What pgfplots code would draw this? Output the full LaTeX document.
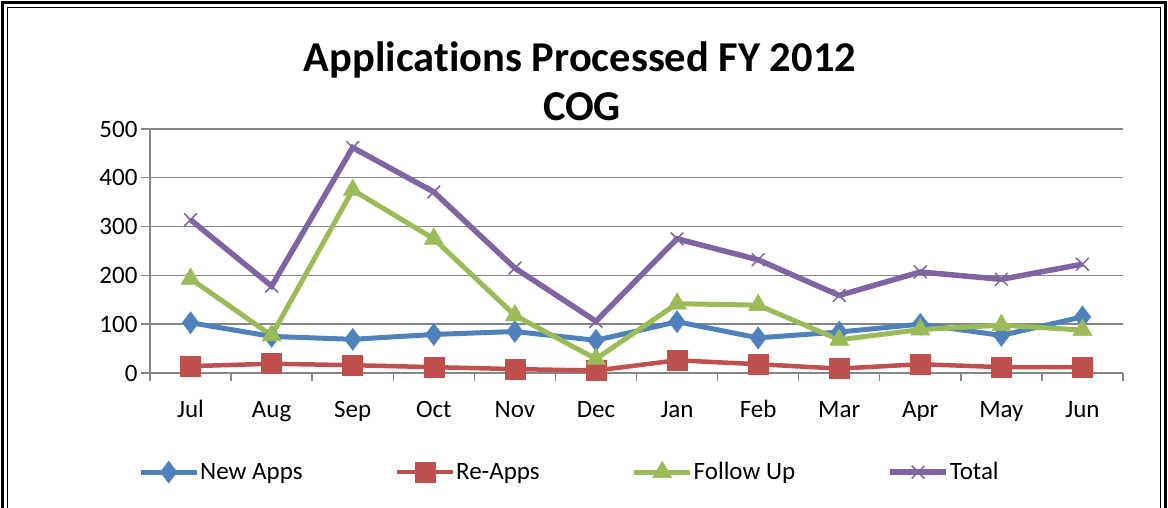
\documentclass[border=0pt]{standalone}
\usepackage{fontspec}
\setmainfont{Carlito}[Ligatures=NoCommon]
\usepackage{pgfplots}
\pgfplotsset{compat=1.18}
\definecolor{cBlue}{HTML}{4F81BD}
\definecolor{cRed}{HTML}{C0504D}
\definecolor{cGreen}{HTML}{9BBB59}
\definecolor{cPurple}{HTML}{8064A2}
\definecolor{gridgray}{HTML}{868686}

\pgfplotstableread{
x y
0 103
1 75
2 69
3 79
4 85
5 67
6 105
7 72
8 84
9 100
10 77
11 115
}\newapps
\pgfplotstableread{
x y
0 14
1 19
2 16
3 12
4 8
5 5
6 26
7 18
8 9
9 18
10 12
11 12
}\reapps
\pgfplotstableread{
x y
0 193
1 77
2 375
3 275
4 118
5 29
6 142
7 139
8 68
9 89
10 98
11 88
}\followup
\pgfplotstableread{
x y
0 314
1 178
2 462
3 371
4 215
5 106
6 275
7 232
8 159
9 207
10 192
11 223
}\total

\begin{document}
\begin{tikzpicture}[x=1pt,y=1pt]
\useasboundingbox (0,0) rectangle (1168,508);
\draw[line width=2.5pt] (2.5,-20) -- (2.5,505.5) -- (1165.5,505.5) -- (1165.5,-20);
\draw[line width=1pt] (7.5,-20) -- (7.5,500.5) -- (1160.5,500.5) -- (1160.5,-20);
\node[font=\fontsize{42.5}{50}\selectfont\bfseries, anchor=base] at (580,436) {Applications Processed FY 2012};
\node[font=\fontsize{42.5}{50}\selectfont\bfseries, anchor=base] at (582,387) {COG};
\begin{axis}[
  at={(150pt,135pt)}, anchor=south west,
  scale only axis, width=973pt, height=244pt,
  xmin=-0.5, xmax=11.5, ymin=0, ymax=500,
  xtick={0,...,11},
  xticklabels={Jul,Aug,Sep,Oct,Nov,Dec,Jan,Feb,Mar,Apr,May,Jun},
  major x tick style={draw=none},
  minor xtick={-0.5,0.5,...,11.5},
  ytick={0,100,...,500},
  ymajorgrids,
  grid style={color=gridgray, line width=1.4pt},
  axis x line*=bottom, axis y line*=left,
  axis line style={gridgray, line width=1.4pt, -},
  tick align=outside,
  major tick length=9pt, minor tick length=8pt,
  tick style={gridgray, line width=1.4pt},
  ticklabel style={font=\fontsize{25}{30}\selectfont, text=black},
  xticklabel style={text height=17pt, text depth=0pt, yshift=-15pt},
  /pgf/number format/assume math mode=true,
  legend columns=4,
  legend style={at={(-0.0123,-0.406)}, anchor=west, draw=none, inner sep=0pt,
    font=\fontsize{25}{30}\selectfont,
    /tikz/every even column/.append style={column sep=91pt},
    nodes={inner sep=1pt}},
  legend image code/.code={\draw[#1, mark repeat=2, mark phase=2] plot coordinates {(0pt,0pt)(28pt,0pt)(56pt,0pt)};},
]
\addplot[color=cBlue, line width=5pt, mark=diamond*, mark size=11pt, mark options={solid, line width=0.5pt, fill=cBlue}] table {\newapps};
\addlegendentry{New Apps}
\addplot[color=cRed, line width=4.5pt, mark=square*, mark size=10pt, mark options={solid, line width=0.5pt, fill=cRed}] table {\reapps};
\addlegendentry{Re-Apps}
\addplot[color=cGreen, line width=5pt, mark=triangle*, mark size=11pt, mark options={solid, line width=0.5pt, fill=cGreen}] table {\followup};
\addlegendentry{Follow Up}
\addplot[color=cPurple, line width=5.5pt, mark=x, mark size=9pt, mark options={solid, line width=1.5pt}] table {\total};
\addlegendentry{Total}
\end{axis}
\end{tikzpicture}
\end{document}
